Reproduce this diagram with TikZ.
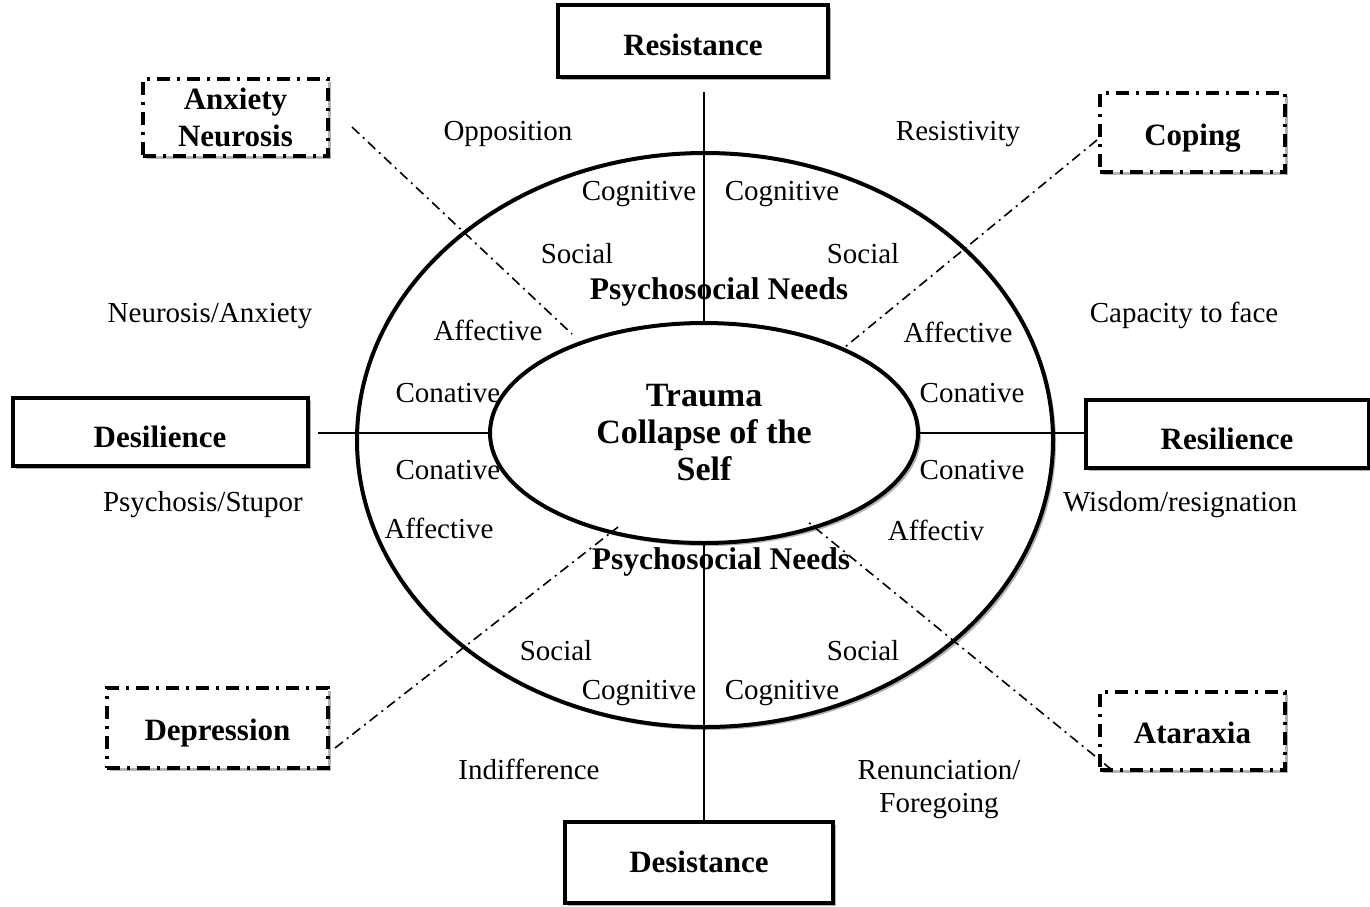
\documentclass[tikz,border=0pt]{standalone}
\usepackage{fontspec}
\setmainfont{Liberation Serif}
\usetikzlibrary{shapes.geometric,shadows}
\begin{document}
\begin{tikzpicture}[x=1pt,y=-1pt,
  shad/.style={drop shadow={shadow xshift=3pt,shadow yshift=-3pt,opacity=0.3,fill=black}},
  solidbox/.style={draw,line width=4pt,fill=white,shad,inner sep=0pt,
    font=\fontsize{31}{37}\selectfont\bfseries},
  oneline/.style={text height=28pt,text depth=0pt},
  dashbox/.style={solidbox,dash pattern=on 13pt off 7pt on 3pt off 7pt,line width=4.5pt},
  lbl/.style={inner sep=0pt,text height=6pt,text depth=0pt,yshift=-6pt,font=\fontsize{29}{33}\selectfont},
  blbl/.style={lbl,font=\fontsize{31.5}{35}\selectfont\bfseries},
  ring/.style={draw,ellipse,line width=4pt,fill=white,shad,inner sep=0pt},
  axis/.style={line width=1.8pt},
  dd/.style={line width=1.6pt,dash pattern=on 10pt off 5pt on 2pt off 5pt}]
\useasboundingbox (0,0) rectangle (1370,906);
\fill[white] (0,0) rectangle (1370,906);

% outer ellipse
\node[ring,minimum width=696pt,minimum height=574pt] (outer) at (705,440) {};

% boxes
\node[solidbox,oneline,minimum width=270pt,minimum height=72pt] (res) at (693,41) {Resistance};
\node[solidbox,oneline,minimum width=268pt,minimum height=81pt,text height=21pt] (des) at (699,862) {Desistance};
\node[solidbox,oneline,minimum width=295pt,minimum height=68pt,text height=30pt] (desil) at (160,432) {Desilience};
\node[solidbox,oneline,minimum width=283pt,minimum height=68pt,text height=31pt] (resil) at (1227,434) {Resilience};
\node[dashbox,align=center,minimum width=185pt,minimum height=77pt] (anx) at (235.5,117.5) {Anxiety\\Neurosis};
\node[dashbox,oneline,minimum width=185pt,minimum height=79pt,text height=26pt] (cop) at (1192.5,132.5) {Coping};
\node[dashbox,oneline,minimum width=221pt,minimum height=80pt,text height=25pt] (dep) at (217.5,728) {Depression};
\node[dashbox,oneline,minimum width=185pt,minimum height=78pt,text height=24pt] (ata) at (1192.5,731) {Ataraxia};

% inner ellipse
\node[ring,minimum width=428pt,minimum height=220pt,align=center,
  font=\fontsize{34}{37}\selectfont\bfseries] (inner) at (704,433)
  {Trauma\\Collapse of the\\Self};

% axes
\draw[axis] ([yshift=-13pt]inner.north |- res.south) -- (inner.north);
\draw[axis] (inner.south) -- (inner.south |- des.north);
\draw[axis] ([xshift=8pt]inner.west -| desil.east) -- (inner.west);
\draw[axis] (inner.east) -- (inner.east -| resil.west);

% diagonal dash-dot connectors
\coordinate (a1) at (352,127); \coordinate (a2) at (572,334);
\coordinate (c1) at (1097,140); \coordinate (c2) at (845,347);
\coordinate (d1) at (335,748); \coordinate (d2) at (618,527);
\coordinate (t1) at (808,522); \coordinate (t2) at (1112,770);
\draw[dd] (a1) -- (a2);
\draw[dd] (c1) -- (c2);
\draw[dd] (d1) -- (d2);
\draw[dd] (t2) -- (t1);

% labels
\node[lbl] (l1) at (508,131) {Opposition};
\node[lbl] (l2) at (958,131) {Resistivity};
\node[lbl] (l3) at (639,191) {Cognitive};
\node[lbl] (l4) at (782,191) {Cognitive};
\node[lbl] (l5) at (577,254) {Social};
\node[lbl] (l6) at (863,254) {Social};
\node[blbl] (l7) at (719,290) {Psychosocial Needs};
\node[lbl] (l8) at (210,313) {Neurosis/Anxiety};
\node[lbl] (l9) at (1184,313) {Capacity to face};
\node[lbl] (l10) at (488,331) {Affective};
\node[lbl] (l11) at (958,333) {Affective};
\node[lbl] (l12) at (448,393) {Conative};
\node[lbl] (l13) at (972,393) {Conative};
\node[lbl] (l14) at (448,470) {Conative};
\node[lbl] (l15) at (972,470) {Conative};
\node[lbl] (l16) at (203,502) {Psychosis/Stupor};
\node[lbl] (l17) at (1180,502) {Wisdom/resignation};
\node[lbl] (l18) at (439,529) {Affective};
\node[lbl] (l19) at (936,531) {Affectiv};
\node[blbl] (l20) at (721,560) {Psychosocial Needs};
\node[lbl] (l21) at (556,651) {Social};
\node[lbl] (l22) at (863,651) {Social};
\node[lbl] (l23) at (639,690) {Cognitive};
\node[lbl] (l24) at (782,690) {Cognitive};
\node[lbl] (l25) at (529,770) {Indifference};
\node[lbl] (l26) at (939,770) {Renunciation/};
\node[lbl] (l27) at (939,803) {Foregoing};
\end{tikzpicture}
\end{document}
